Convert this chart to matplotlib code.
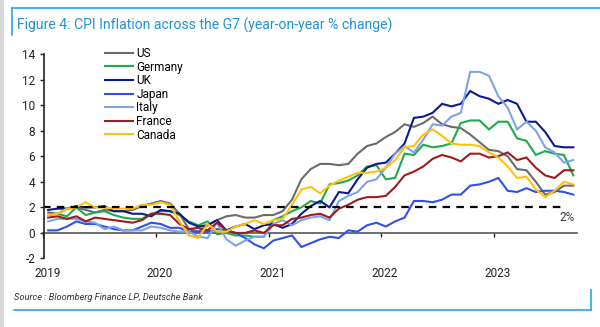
import numpy as np
import matplotlib.pyplot as plt
import matplotlib.transforms as mtransforms
from matplotlib.lines import Line2D
from matplotlib.patches import Rectangle

plt.rcParams['font.family'] = ['Roboto', 'DejaVu Sans']
plt.rcParams['axes.unicode_minus'] = False

# CPI, yoy %, monthly Jan 2019 - Sep 2023
us = [1.6, 1.5, 1.9, 2.0, 1.8, 1.6, 1.8, 1.7, 1.7, 1.8, 2.1, 2.3,
      2.5, 2.3, 1.5, 0.3, 0.1, 0.6, 1.0, 1.3, 1.4, 1.2, 1.2, 1.4,
      1.4, 1.7, 2.6, 4.2, 5.0, 5.4, 5.4, 5.3, 5.4, 6.2, 6.8, 7.0,
      7.5, 7.9, 8.5, 8.3, 8.6, 9.1, 8.5, 8.3, 8.2, 7.7, 7.1, 6.5,
      6.4, 6.0, 5.0, 4.9, 4.0, 3.0, 3.2, 3.7, 3.7]
germany = [1.4, 1.5, 1.3, 2.0, 1.4, 1.6, 1.7, 1.4, 1.2, 1.1, 1.1, 1.5,
           1.7, 1.7, 1.4, 0.9, 0.6, 0.9, -0.1, 0.0, -0.2, -0.2, -0.3, -0.3,
           1.0, 1.3, 1.7, 2.0, 2.5, 2.3, 3.8, 3.9, 4.1, 4.5, 5.2, 5.3,
           4.2, 4.3, 6.2, 6.1, 6.9, 6.7, 6.8, 7.0, 8.6, 8.8, 8.8, 8.1,
           8.7, 8.7, 7.4, 7.2, 6.1, 6.4, 6.2, 6.1, 4.5]
uk = [1.8, 1.9, 1.9, 2.1, 2.0, 2.0, 2.1, 1.7, 1.7, 1.5, 1.5, 1.3,
      1.8, 1.7, 1.5, 0.8, 0.5, 0.6, 1.0, 0.2, 0.5, 0.7, 0.3, 0.6,
      0.7, 0.4, 0.7, 1.5, 2.1, 2.5, 2.0, 3.2, 3.1, 4.2, 5.1, 5.4,
      5.5, 6.2, 7.0, 9.0, 9.1, 9.4, 10.1, 9.9, 10.1, 11.1, 10.7, 10.5,
      10.1, 10.4, 10.1, 8.7, 8.7, 7.9, 6.8, 6.7, 6.7]
japan = [0.2, 0.2, 0.5, 0.9, 0.7, 0.7, 0.5, 0.3, 0.2, 0.2, 0.5, 0.8,
         0.7, 0.4, 0.4, 0.1, 0.1, 0.1, 0.3, 0.2, 0.0, -0.4, -0.9, -1.2,
         -0.6, -0.4, -0.2, -1.1, -0.8, -0.5, -0.3, -0.4, 0.2, 0.1, 0.6, 0.8,
         0.5, 0.9, 1.2, 2.5, 2.5, 2.4, 2.6, 3.0, 3.0, 3.7, 3.8, 4.0,
         4.3, 3.3, 3.2, 3.5, 3.2, 3.3, 3.3, 3.2, 3.0]
italy = [0.9, 1.1, 1.1, 1.1, 0.9, 0.8, 0.3, 0.5, 0.2, 0.2, 0.2, 0.5,
         0.4, 0.2, 0.1, 0.1, -0.3, -0.4, 0.8, -0.5, -1.0, -0.6, -0.3, -0.3,
         0.7, 1.0, 0.6, 1.0, 1.2, 1.3, 1.0, 2.5, 2.9, 3.2, 4.0, 4.2,
         5.1, 6.2, 6.8, 6.3, 7.3, 8.5, 8.4, 9.1, 9.4, 12.6, 12.6, 12.3,
         10.7, 9.8, 8.1, 8.7, 8.0, 6.7, 6.3, 5.5, 5.7]
france = [1.2, 1.3, 1.1, 1.3, 0.9, 1.2, 1.1, 1.0, 0.9, 0.8, 1.0, 1.5,
          1.5, 1.4, 0.7, 0.3, 0.4, 0.2, 0.8, 0.2, 0.0, 0.0, 0.2, 0.0,
          0.6, 0.6, 1.1, 1.2, 1.4, 1.5, 1.2, 1.9, 2.2, 2.6, 2.8, 2.8,
          2.9, 3.6, 4.5, 4.8, 5.2, 5.8, 6.1, 5.9, 5.6, 6.2, 6.2, 5.9,
          6.0, 6.3, 5.7, 5.9, 5.1, 4.5, 4.3, 4.9, 4.9]
canada = [1.4, 1.5, 1.9, 2.0, 2.4, 2.0, 2.0, 1.9, 1.9, 1.9, 2.2, 2.2,
          2.4, 2.2, 0.9, -0.2, -0.4, 0.7, 0.1, 0.1, 0.5, 0.7, 1.0, 0.7,
          1.0, 1.1, 2.2, 3.4, 3.6, 3.1, 3.7, 4.1, 4.4, 4.7, 4.7, 4.8,
          5.1, 5.7, 6.7, 6.8, 7.7, 8.1, 7.6, 7.0, 6.9, 6.9, 6.8, 6.3,
          5.9, 5.2, 4.3, 4.4, 3.4, 2.8, 3.3, 4.0, 3.8]

names = ['US', 'Germany', 'UK', 'Japan', 'Italy', 'France', 'Canada']
colors = ['#6b6b6b', '#1faa4b', '#0b1a8e', '#2f4ff0', '#7fa3e6', '#9e1c1c', '#ffc10e']
series = [us, germany, uk, japan, italy, france, canada]
years = [2019, 2020, 2021, 2022, 2023]
target = 2

# months plotted at mid-month
t = 2019 + (np.arange(len(us)) + 0.5) / 12

fig = plt.figure(figsize=(6, 3.27), dpi=100)
ax = fig.add_axes([0.0725, 0.2095, 0.889, 0.6254])

for vals, c in zip(series, colors):
    ax.plot(t, vals, color=c, lw=1.5, solid_joinstyle='miter')

ax.hlines(target, 2019, 2023.6, colors='black', lw=1.6, linestyles=(0, (3.4, 2.8)))
ax.text(2023.72, 1.2, '2%', fontsize=8.5, color='#333333', ha='right', va='center')

ax.set_xlim(2019, 2023.74)
ax.set_ylim(-2, 14)
ax.set_yticks(range(-2, 15, 2))

for s in ['top', 'right', 'bottom']:
    ax.spines[s].set_visible(False)
ax.spines['left'].set_color('#222222')
ax.spines['left'].set_linewidth(1.2)
ax.tick_params(axis='y', length=3, width=1, color='#222222', labelsize=8.5,
               labelcolor='#222222', pad=3)
ax.set_xticks(years)
ax.tick_params(axis='x', length=0, labelsize=8.5, labelcolor='#222222', pad=6)
offset = mtransforms.ScaledTranslation(4 / 100, 0, fig.dpi_scale_trans)
for lbl in ax.get_xticklabels():
    lbl.set_transform(lbl.get_transform() + offset)

# x axis line sits at zero
sec = ax.secondary_xaxis(0.125)
sec.set_xticks(years, labels=[])
sec.spines['bottom'].set_color('#555555')
sec.spines['bottom'].set_linewidth(1.2)
sec.tick_params(length=3, width=1, color='#222222', direction='out')

handles = [Line2D([], [], color=c, lw=1.5) for c in colors]
fig.legend(handles, names, loc='upper left', bbox_to_anchor=(105 / 600, 1 - 47 / 327),
           frameon=False, fontsize=8.5, handlelength=2.4, handletextpad=0.25,
           labelspacing=0.05, borderpad=0, borderaxespad=0)

fig.text(17 / 600, 1 - 25 / 327, 'Figure 4: CPI Inflation across the G7 (year-on-year % change)',
         fontsize=10.1, color='#2391d2', va='center')
fig.text(14 / 600, 1 - 297 / 327, 'Source : Bloomberg Finance LP, Deutsche Bank',
         fontsize=6.7, style='italic', color='#333333', va='center')

# report frame
blue = '#2aa7e0'
fig.add_artist(Line2D([12 / 600, 1], [1 - 8 / 327] * 2, color=blue, lw=1.2))
fig.add_artist(Line2D([12 / 600] * 2, [1 - 8 / 327, 1 - 35 / 327], color=blue, lw=1.2))
fig.add_artist(Line2D([14 / 600, 591 / 600], [1 - 310 / 327] * 2, color=blue, lw=1.2))
fig.add_artist(Line2D([591 / 600] * 2, [1 - 310 / 327, 1 - 290 / 327], color=blue, lw=1.2))
fig.add_artist(Rectangle((0, 0), 4 / 600, 1, color='#d8d8d8', lw=0))

fig.savefig('out.png', dpi=100)
